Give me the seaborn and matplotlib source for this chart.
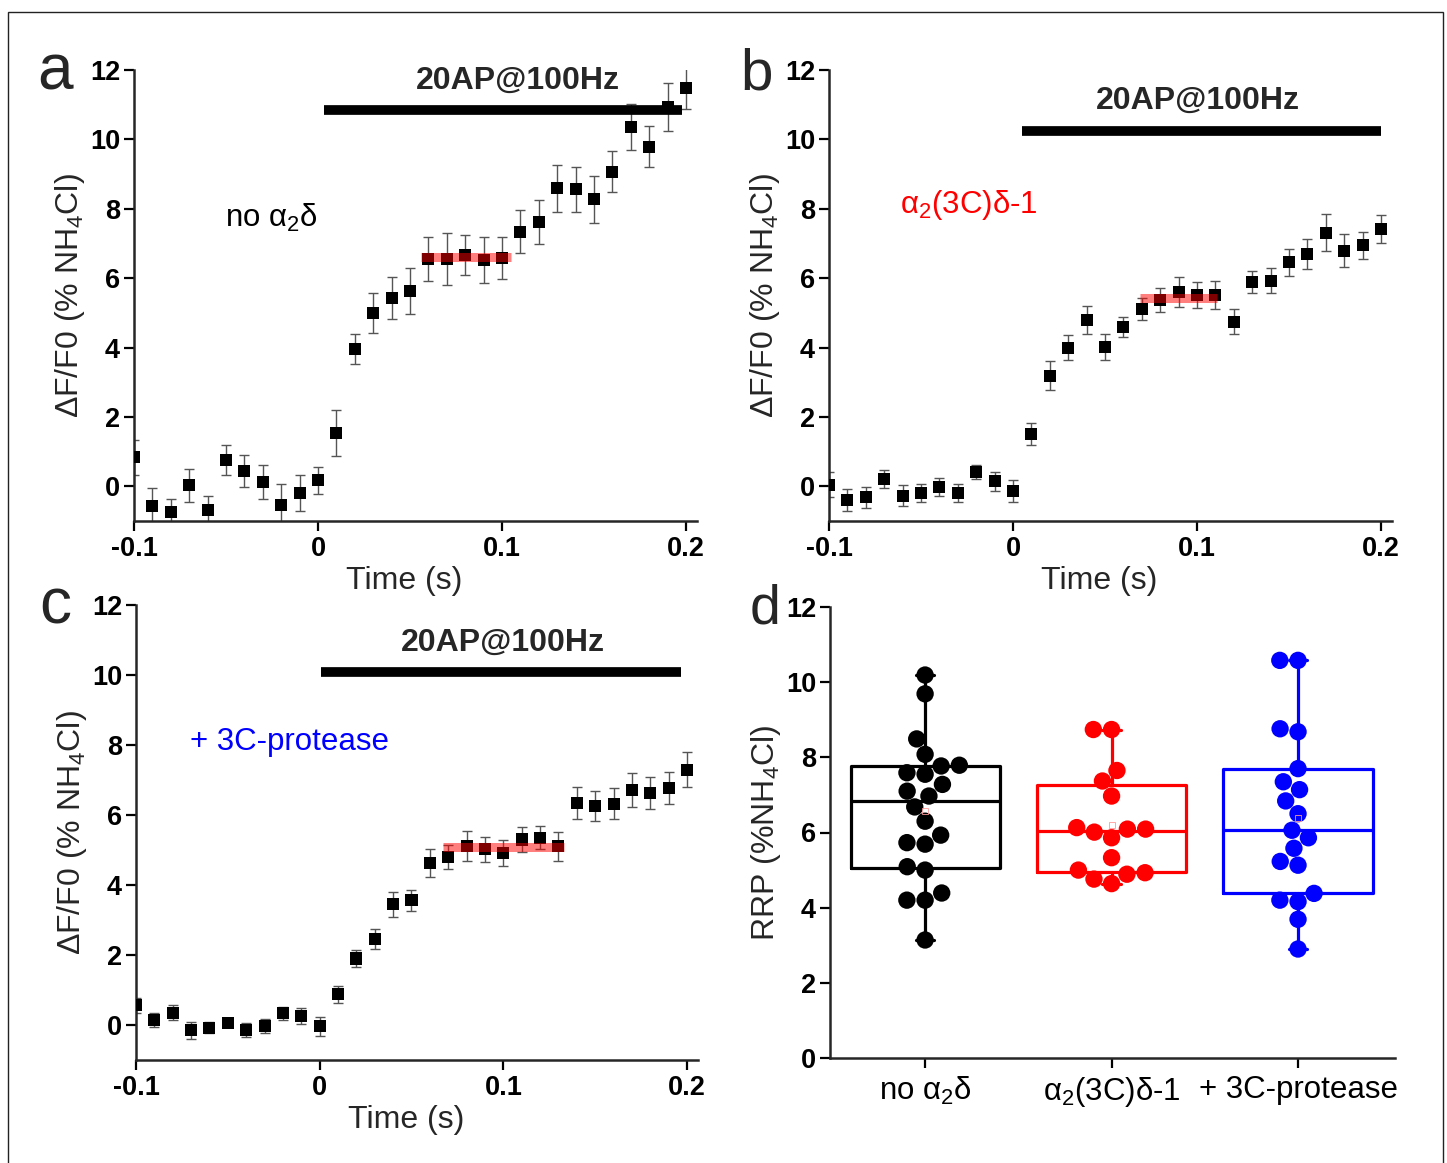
import numpy as np
import pandas as pd
import matplotlib
matplotlib.use("Agg")
import matplotlib.pyplot as plt
import seaborn as sns

sns.set_style("ticks")
plt.rcParams['font.family'] = ['Liberation Sans', 'DejaVu Sans']
plt.rcParams['mathtext.fontset'] = 'custom'
plt.rcParams['mathtext.rm'] = 'Liberation Sans'
plt.rcParams['mathtext.it'] = 'Liberation Sans:italic'
plt.rcParams['mathtext.bf'] = 'Liberation Sans:bold'
plt.rcParams['axes.linewidth'] = 1.8

# ---------------------------------------------------------------
# data
time_s = [-0.10, -0.09, -0.08, -0.07, -0.06, -0.05, -0.04, -0.03, -0.02, -0.01,
          0.00, 0.01, 0.02, 0.03, 0.04, 0.05, 0.06, 0.07, 0.08, 0.09, 0.10,
          0.11, 0.12, 0.13, 0.14, 0.15, 0.16, 0.17, 0.18, 0.19, 0.20]

a_mean = [0.84, -0.56, -0.75, 0.03, -0.69, 0.77, 0.43, 0.12, -0.53, -0.19,
          0.17, 1.54, 3.95, 4.99, 5.42, 5.63, 6.55, 6.55, 6.67, 6.53, 6.59,
          7.34, 7.62, 8.59, 8.56, 8.27, 9.07, 10.36, 9.79, 10.94, 11.47]
a_err = [0.50, 0.50, 0.38, 0.47, 0.40, 0.43, 0.46, 0.48, 0.60, 0.53,
         0.40, 0.67, 0.43, 0.58, 0.60, 0.67, 0.64, 0.74, 0.58, 0.67, 0.60,
         0.62, 0.63, 0.67, 0.65, 0.68, 0.60, 0.67, 0.60, 0.69, 0.60]

b_mean = [0.05, -0.40, -0.32, 0.22, -0.27, -0.19, -0.02, -0.19, 0.41, 0.14,
          -0.14, 1.51, 3.19, 4.00, 4.80, 4.01, 4.59, 5.11, 5.36, 5.60, 5.52,
          5.52, 4.74, 5.90, 5.93, 6.46, 6.70, 7.31, 6.79, 6.95, 7.41]
b_err = [0.35, 0.31, 0.31, 0.26, 0.30, 0.26, 0.27, 0.26, 0.19, 0.27,
         0.31, 0.32, 0.41, 0.36, 0.40, 0.37, 0.29, 0.32, 0.35, 0.43, 0.37,
         0.41, 0.36, 0.32, 0.35, 0.39, 0.44, 0.53, 0.47, 0.39, 0.41]

c_mean = [0.56, 0.14, 0.35, -0.15, -0.08, 0.07, -0.14, -0.03, 0.33, 0.26,
          -0.03, 0.88, 1.90, 2.45, 3.45, 3.56, 4.64, 4.80, 5.11, 5.02, 4.92,
          5.30, 5.35, 5.11, 6.35, 6.26, 6.32, 6.71, 6.64, 6.77, 7.29]
c_err = [0.22, 0.20, 0.22, 0.24, 0.16, 0.10, 0.19, 0.21, 0.19, 0.24,
         0.27, 0.24, 0.25, 0.28, 0.35, 0.31, 0.40, 0.34, 0.42, 0.35, 0.37,
         0.36, 0.33, 0.41, 0.45, 0.43, 0.44, 0.49, 0.46, 0.46, 0.50]

# plateau (red band) and stimulus bar per panel
plateau_x = {'a': [0.056, 0.105], 'b': [0.069, 0.111], 'c': [0.067, 0.133]}
plateau_y = {'a': 6.62, 'b': 5.42, 'c': 5.10}
stim_x = {'a': [0.003, 0.198], 'b': [0.005, 0.200], 'c': [0.001, 0.197]}
stim_y = {'a': 10.84, 'b': 10.25, 'c': 10.09}
stim_text_xy = {'a': (0.1087, 11.7), 'b': (0.1004, 11.1), 'c': (0.0995, 10.92)}
stim_label = "20AP@100Hz"

cond_labels = ["no α$_2$δ", "α$_2$(3C)δ-1", "+ 3C-protease"]
cond_colors = ["black", "#ff0000", "#0000ff"]

x_ticks = [-0.1, 0.0, 0.1, 0.2]
x_ticklabels = ["-0.1", "0", "0.1", "0.2"]
y_ticks = [0, 2, 4, 6, 8, 10, 12]
y_ticklabels = ["0", "2", "4", "6", "8", "10", "12"]

# panel d: RRP per bouton
rrp_none = [10.19, 9.69, 8.49, 8.08, 7.79, 7.77, 7.59, 7.55, 7.28, 6.97, 7.10,
            6.68, 6.30, 5.93, 5.73, 5.69, 5.00, 5.09, 4.39, 4.20, 4.20, 3.14]
rrp_3c = [8.74, 8.74, 7.65, 7.37, 6.97, 6.09, 6.01, 6.09, 6.13, 5.86, 5.33,
          4.76, 4.89, 4.93, 5.00, 4.64]
rrp_prot = [10.58, 10.58, 8.68, 8.76, 7.70, 7.35, 7.14, 6.84, 6.50, 5.86, 6.06,
            5.58, 5.23, 5.13, 4.38, 4.20, 4.16, 3.69, 2.90]

# ---------------------------------------------------------------
W, H = 1447, 1163
fig = plt.figure(figsize=(W / 100, H / 100), dpi=100)


def px_axes(left, right, top, bottom):
    return fig.add_axes([left / W, 1 - bottom / H, (right - left) / W, (bottom - top) / H])


ax_a = px_axes(134, 697, 70, 521)
ax_b = px_axes(829, 1392, 70, 521)
ax_c = px_axes(136, 698, 605, 1060)
ax_d = px_axes(830, 1395, 607, 1058)

tick_font = dict(fontsize=19.5, fontweight='bold')


def style_axes(ax):
    sns.despine(ax=ax)
    ax.tick_params(axis='both', length=7, width=1.6, direction='out', pad=3, colors='black')
    ax.set_yticks(y_ticks)
    ax.set_yticklabels(y_ticklabels, **tick_font)


def trace_panel(ax, key, mean, err, note, note_color, note_xy):
    df = pd.DataFrame({'t': time_s, 'v': mean, 'e': err})
    ax.errorbar(df['t'], df['v'], yerr=df['e'], fmt='none', ecolor='#555555',
                elinewidth=1.0, capsize=3.5, capthick=1.0, zorder=2)
    sns.scatterplot(data=df, x='t', y='v', marker='s', color='black', s=75,
                    edgecolor='none', ax=ax, zorder=3)
    ax.plot(plateau_x[key], [plateau_y[key]] * 2, color='#ff0000', alpha=0.5,
            lw=6.5, solid_capstyle='butt', zorder=4)
    ax.plot(stim_x[key], [stim_y[key]] * 2, color='black', lw=7,
            solid_capstyle='butt', zorder=4)
    tx, ty = stim_text_xy[key]
    ax.text(tx, ty, stim_label, ha='center', va='center', fontsize=23, fontweight='bold')
    ax.text(note_xy[0], note_xy[1], note, color=note_color, ha='left', va='center', fontsize=22.5)
    ax.set_xlim(-0.1, 0.206)
    ax.set_ylim(-1, 12)
    style_axes(ax)
    ax.set_xticks(x_ticks)
    ax.set_xticklabels(x_ticklabels, **tick_font)
    ax.tick_params(axis='x', pad=4)
    ax.set_xlabel("Time (s)", fontsize=23, labelpad=3, x=0.48)
    ax.set_ylabel("ΔF/F0 (% NH$_4$Cl)", fontsize=23, labelpad=2)


trace_panel(ax_a, 'a', a_mean, a_err, cond_labels[0], 'black', (-0.0505, 7.74))
trace_panel(ax_b, 'b', b_mean, b_err, cond_labels[1], '#ff0000', (-0.0614, 8.1))
trace_panel(ax_c, 'c', c_mean, c_err, cond_labels[2], '#0000ff', (-0.0706, 8.09))

# ---------------------------------------------------------------
# panel d: box (min-max whiskers, GraphPad quartiles) + swarm
groups = [rrp_none, rrp_3c, rrp_prot]
rrp_df = pd.concat([pd.DataFrame({'cond': lab, 'rrp': vals})
                    for lab, vals in zip(cond_labels, groups)], ignore_index=True)

sns.swarmplot(data=rrp_df, x='cond', y='rrp', hue='cond', order=cond_labels,
              palette=cond_colors, size=12.5, linewidth=0, legend=False, ax=ax_d, zorder=2)

for i, (vals, col) in enumerate(zip(groups, cond_colors)):
    q1, med, q3 = np.percentile(vals, [25, 50, 75], method='weibull')
    stats = [dict(med=med, q1=q1, q3=q3, whislo=min(vals), whishi=max(vals),
                  mean=np.mean(vals), fliers=[])]
    lp = dict(color=col, linewidth=2.3)
    ax_d.bxp(stats, positions=[i], widths=0.8, capwidths=0.1, showmeans=True,
             showfliers=False, manage_ticks=False,
             boxprops=lp, medianprops=lp, whiskerprops=lp, capprops=lp,
             meanprops=dict(marker='s', markersize=4, markerfacecolor='none',
                            markeredgecolor='#ff9999', markeredgewidth=0.6),
             zorder=3)

ax_d.set_xlim(-0.51, 2.52)
ax_d.set_ylim(0, 12)
style_axes(ax_d)
ax_d.set_xticks([0, 1, 2])
ax_d.set_xticklabels(cond_labels, fontsize=22.5)
ax_d.tick_params(axis='x', pad=5)
ax_d.set_xlabel("")
ax_d.set_ylabel("RRP (%NH$_4$Cl)", fontsize=23, labelpad=2)

# panel letters
for letter, x, y, fs in [('a', 55, 90, 46), ('b', 757, 90, 42), ('c', 55, 623, 46), ('d', 765, 623, 40)]:
    fig.text(x / W, 1 - y / H, letter, ha='center', va='baseline', fontsize=fs)

# outer frame
fig.add_artist(plt.Rectangle((8 / W, -0.01), (1443 - 8) / W, 1.01 - 12 / H,
                             transform=fig.transFigure, fill=False, lw=1.0, ec='#222222'))

fig.savefig("out.png", dpi=100)
